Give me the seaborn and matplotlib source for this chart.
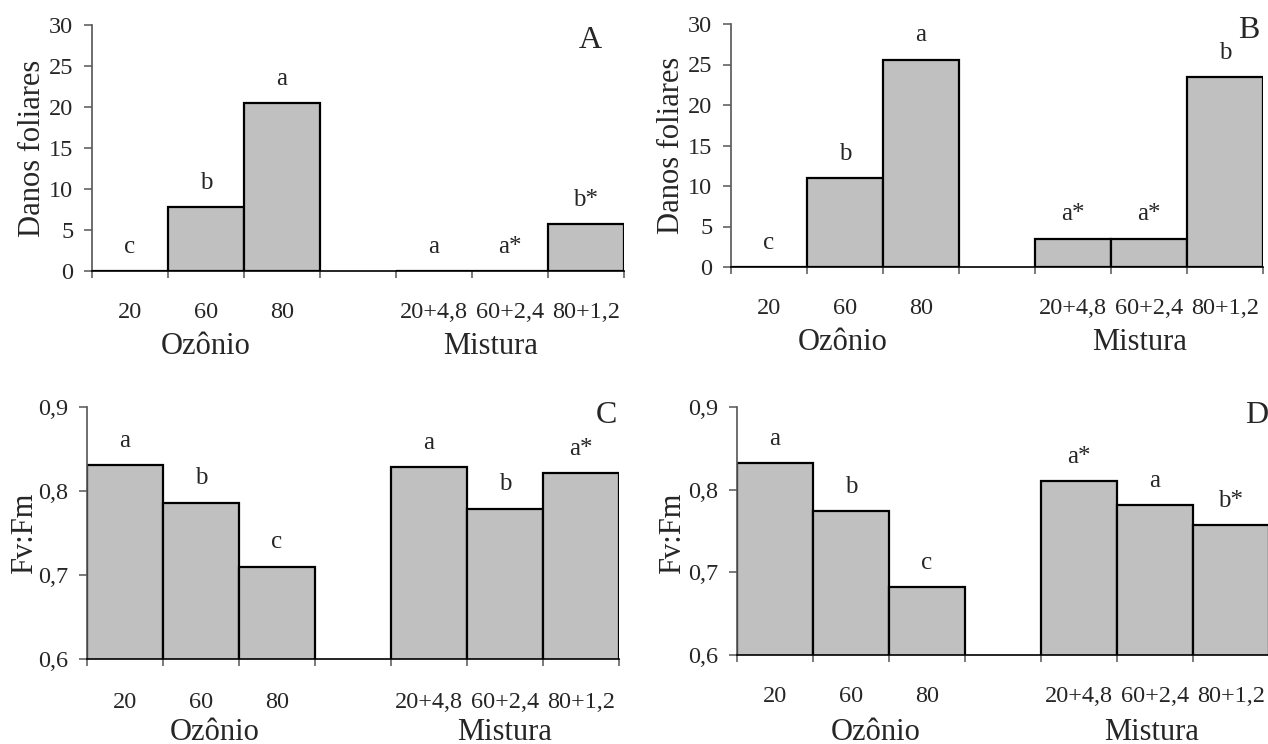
import numpy as np
import pandas as pd
import matplotlib
matplotlib.use("Agg")
import matplotlib.pyplot as plt
import seaborn as sns

# ---------------- data ----------------
categories = ["20", "60", "80", "20+4,8", "60+2,4", "80+1,2"]
groups = ["Ozônio", "Mistura"]

danos_A = [0.0, 7.8, 20.5, 0.0, 0.0, 5.7]
letters_A = ["c", "b", "a", "a", "a*", "b*"]

danos_B = [0.0, 11.0, 25.6, 3.5, 3.5, 23.4]
letters_B = ["c", "b", "a", "a*", "a*", "b"]

fvfm_C = [0.831, 0.786, 0.710, 0.8285, 0.779, 0.821]
letters_C = ["a", "b", "c", "a", "b", "a*"]

fvfm_D = [0.832, 0.774, 0.682, 0.810, 0.781, 0.757]
letters_D = ["a", "b", "c", "a*", "a", "b*"]

yticks_danos = [0, 5, 10, 15, 20, 25, 30]
yticklabels_danos = ["0", "5", "10", "15", "20", "25", "30"]
yticks_fv = [0.6, 0.7, 0.8, 0.9]
yticklabels_fv = ["0,6", "0,7", "0,8", "0,9"]

# ---------------- style ----------------
sns.set_theme(style="white")
plt.rcParams["font.family"] = ["Liberation Serif", "DejaVu Serif"]

W, H = 1268, 744
fig = plt.figure(figsize=(W / 100, H / 100), dpi=100)

GAP = " "
order = categories[:3] + [GAP] + categories[3:]
PX = 0.72  # points per pixel at 100 dpi

def panel(rect_px, values, letters, ylim, yticks, yticklabels, ylabel, panel_letter,
          letter_pos, ylabel_pos, group_pos, xlab_px, group_px):
    left, top, right, bottom = rect_px
    ax = fig.add_axes([left / W, 1 - bottom / H, (right - left) / W, (bottom - top) / H])
    df = pd.DataFrame({"Tratamento": categories, "Valor": values})
    sns.barplot(data=df, x="Tratamento", y="Valor", order=order, width=1.0,
                color="#c0c0c0", saturation=1, edgecolor="black", linewidth=1.6,
                errorbar=None, ax=ax)
    ax.set_xlim(-0.5, 6.5)
    ax.set_ylim(*ylim)
    ax.set_facecolor("none")
    for s in ["top", "right"]:
        ax.spines[s].set_visible(False)
    ax.spines["left"].set_color("#555555")
    ax.spines["left"].set_linewidth(1.2)
    ax.spines["bottom"].set_color("black")
    ax.spines["bottom"].set_linewidth(1.2)

    # y axis
    ax.set_yticks(yticks)
    ax.set_yticklabels(yticklabels, fontsize=17.5)
    ax.tick_params(axis="y", which="major", direction="out", length=5.5, width=1.1,
                   color="#555555", pad=8, left=True)
    # x axis: labels at slot centres, tick marks at slot boundaries
    ax.set_xticks(range(len(order)))
    ax.set_xticklabels([c if c != GAP else "" for c in order], fontsize=17.5)
    ax.set_xticks(np.arange(-0.5, len(order), 1.0), minor=True)
    ax.tick_params(axis="x", which="major", length=0, pad=xlab_px * PX)
    ax.tick_params(axis="x", which="minor", direction="out", length=5, width=1.1,
                   color="#555555", bottom=True)
    ax.set_xlabel("")

    ax.set_ylabel(ylabel, fontsize=22)
    ax.yaxis.label.set_va("center")
    ax.yaxis.set_label_coords(*ylabel_pos)

    # significance letters
    for cat, v, lt in zip(categories, values, letters):
        ax.annotate(lt, xy=(order.index(cat), max(v, ylim[0])), xytext=(0, 17.5),
                    textcoords="offset points", ha="center", va="center", fontsize=18)

    # group labels
    for g, gx in zip(groups, group_pos):
        ax.annotate(g, xy=(gx, 0), xycoords=("data", "axes fraction"),
                    xytext=(0, -group_px * PX), textcoords="offset points",
                    ha="center", va="center", fontsize=22)

    ax.text(letter_pos[0], letter_pos[1], panel_letter, transform=ax.transAxes,
            ha="center", va="center", fontsize=23)
    return ax

panel((92, 25, 624, 271), danos_A, letters_A, (0, 30), yticks_danos, yticklabels_danos,
      "Danos foliares", "A", (0.936, 0.935), (-0.112, 0.5), (0.99, 4.75), 31, 76)
panel((731, 24, 1263, 267), danos_B, letters_B, (0, 30), yticks_danos, yticklabels_danos,
      "Danos foliares", "B", (0.974, 0.972), (-0.112, 0.5), (0.97, 4.88), 31, 76)
panel((87, 407, 619, 659), fvfm_C, letters_C, (0.6, 0.9), yticks_fv, yticklabels_fv,
      "Fv:Fm", "C", (0.977, 0.965), (-0.118, 0.5), (1.18, 5.0), 33, 73)
panel((737, 407, 1269, 655), fvfm_D, letters_D, (0.6, 0.9), yticks_fv, yticklabels_fv,
      "Fv:Fm", "D", (0.977, 0.965), (-0.122, 0.49), (1.32, 4.96), 31, 77)

fig.savefig("out.png", dpi=100, facecolor="white")
